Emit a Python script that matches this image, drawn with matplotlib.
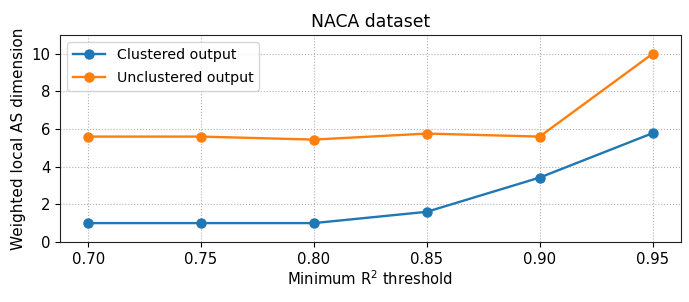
import matplotlib
matplotlib.use("Agg")
import matplotlib.pyplot as plt

thresholds = [0.70, 0.75, 0.80, 0.85, 0.90, 0.95]
clustered = [1.0, 1.0, 1.0, 1.6, 3.42, 5.78]
unclustered = [5.6, 5.6, 5.44, 5.76, 5.6, 10.0]

fig = plt.figure(figsize=(6.89, 3.02), dpi=100)
ax = fig.add_subplot(111)
ax.plot(thresholds, clustered, marker="o", markersize=6.5, linewidth=1.7,
        label="Clustered output")
ax.plot(thresholds, unclustered, marker="o", markersize=6.5, linewidth=1.7,
        label="Unclustered output")
ax.set_ylim(0, 11)
ax.set_xticks(thresholds)
ax.set_xticklabels([f"{t:.2f}" for t in thresholds])
ax.set_yticks([0, 2, 4, 6, 8, 10])
ax.tick_params(labelsize=10.7)
ax.grid(True, linestyle=":", color="#b0b0b0")
ax.set_title("NACA dataset", fontsize=12.4)
ax.set_xlabel("Minimum R$^2$ threshold", fontsize=10.6, labelpad=2)
ax.set_ylabel("Weighted local AS dimension", fontsize=11)
ax.legend(loc="upper left", fontsize=10.2, handlelength=2.3, labelspacing=0.65)
for s in ax.spines.values():
    s.set_color("#222222")

plt.subplots_adjust(left=0.087, right=0.988, top=0.884, bottom=0.199)
plt.savefig("out.png", dpi=100)
plt.close(fig)
